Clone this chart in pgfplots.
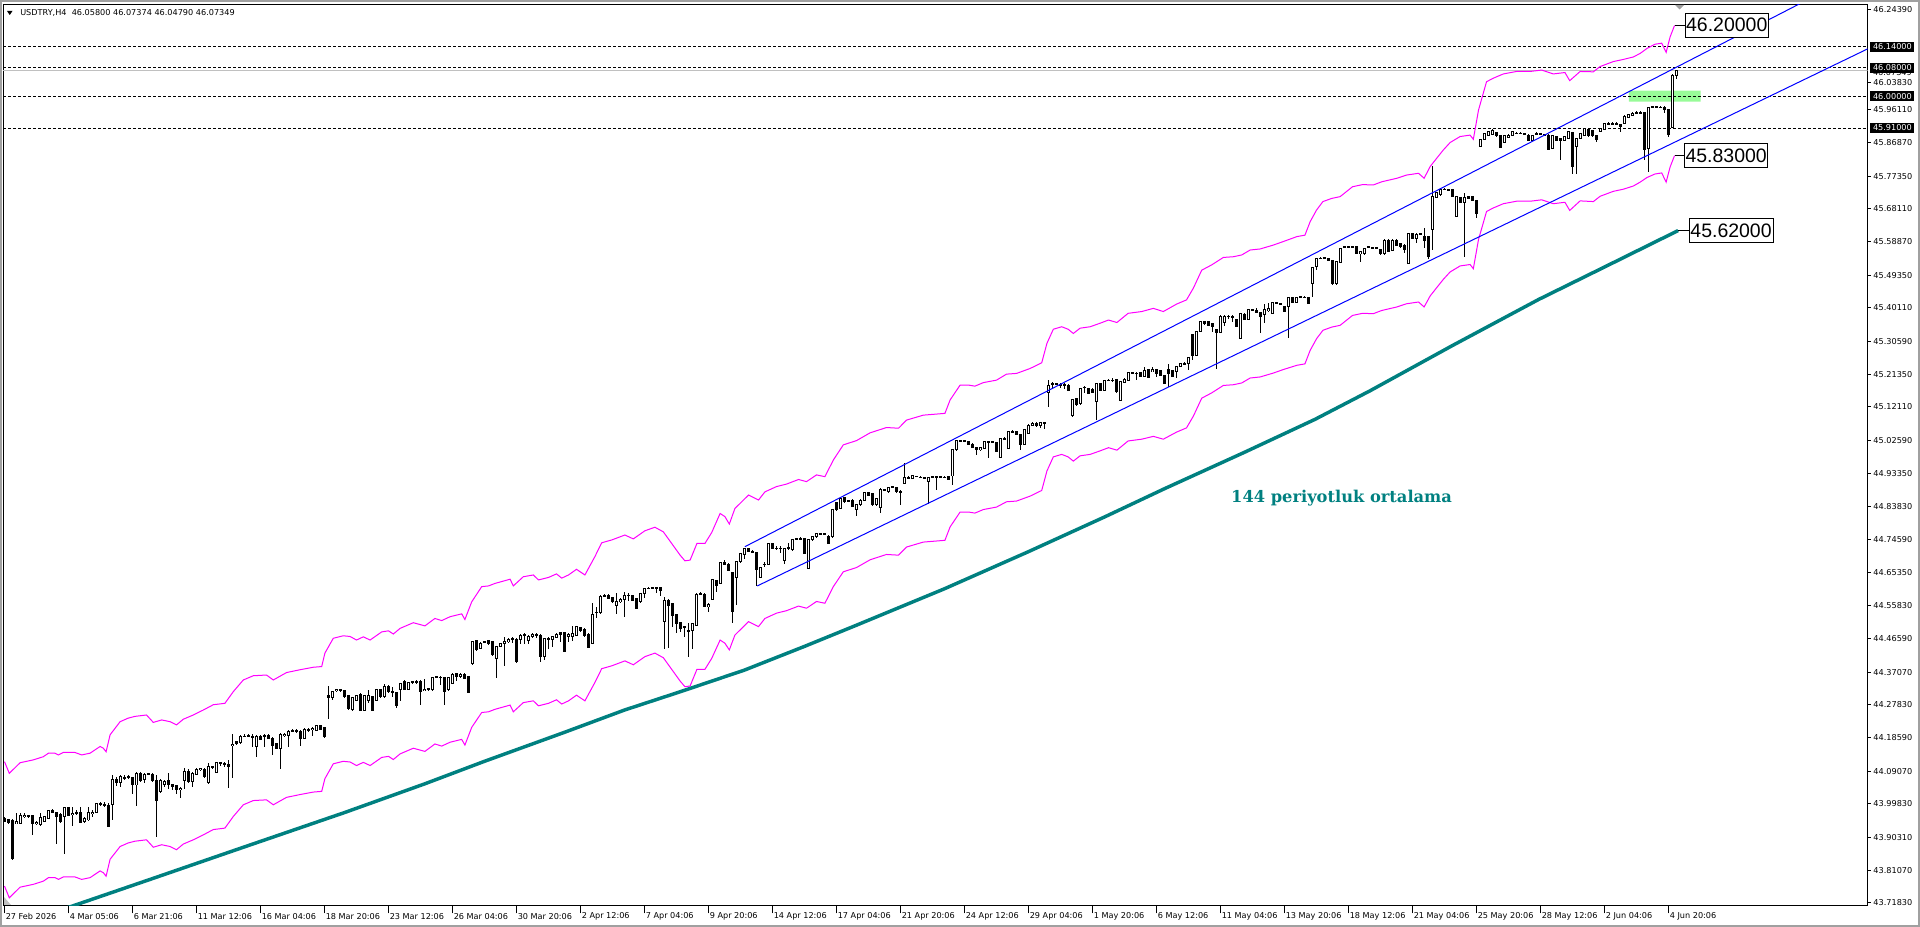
\documentclass[border=0pt]{standalone}
\usepackage{pgfplots}
\pgfplotsset{compat=1.18}
\usepackage{pgfplotstable}
\usepackage{fontspec}
\setmainfont{DejaVu Sans}
\newfontfamily\labfont{Liberation Sans}
\newfontfamily\serfont{DejaVu Serif}
\definecolor{mtmag}{RGB}{255,0,255}
\definecolor{mtteal}{RGB}{0,128,128}
\definecolor{mtblue}{RGB}{0,0,255}
\definecolor{mtgreen}{RGB}{152,251,152}
\definecolor{mtgray}{RGB}{192,192,192}
\definecolor{mtframe}{RGB}{160,160,160}

\pgfplotstableread{
x o h l c
0 43.958 43.962 43.948 43.950
1 43.955 43.957 43.943 43.945
2 43.953 43.955 43.841 43.844
3 43.943 43.974 43.941 43.948
4 43.943 43.974 43.941 43.967
5 43.964 43.972 43.958 43.967
6 43.964 43.967 43.960 43.966
7 43.966 43.968 43.910 43.943
8 43.943 43.950 43.939 43.947
9 43.939 43.974 43.937 43.960
10 43.948 43.964 43.946 43.962
11 43.958 43.981 43.956 43.979
12 43.981 43.984 43.972 43.974
13 43.974 43.976 43.885 43.964
14 43.969 43.972 43.946 43.948
15 43.964 43.990 43.857 43.989
16 43.988 43.989 43.965 43.967
17 43.969 43.990 43.936 43.972
18 43.972 43.981 43.967 43.974
19 43.974 43.990 43.944 43.946
20 43.948 43.962 43.946 43.958
21 43.953 43.989 43.951 43.974
22 43.972 43.981 43.962 43.975
23 43.974 44.002 43.972 43.999
24 43.998 44.004 43.992 44.000
25 43.998 44.004 43.990 43.995
26 43.995 44.000 43.934 43.936
27 43.997 44.079 43.953 44.068
28 44.068 44.075 44.049 44.058
29 44.058 44.079 44.047 44.075
30 44.072 44.079 44.066 44.074
31 44.073 44.079 44.068 44.075
32 44.073 44.075 44.028 44.052
33 44.052 44.088 43.992 44.085
34 44.085 44.088 44.061 44.066
35 44.068 44.087 44.058 44.083
36 44.083 44.087 44.079 44.085
37 44.083 44.085 44.061 44.066
38 44.066 44.080 43.906 44.009
39 44.033 44.068 44.030 44.064
40 44.054 44.066 44.047 44.063
41 44.066 44.085 44.042 44.052
42 44.054 44.056 44.038 44.047
43 44.050 44.052 44.028 44.038
44 44.038 44.047 44.014 44.042
45 44.066 44.099 44.042 44.090
46 44.090 44.096 44.059 44.061
47 44.061 44.088 44.047 44.085
48 44.083 44.099 44.080 44.096
49 44.096 44.101 44.092 44.099
50 44.096 44.099 44.073 44.075
51 44.058 44.113 44.056 44.104
52 44.102 44.106 44.098 44.104
53 44.088 44.118 44.085 44.116
54 44.115 44.118 44.106 44.113
55 44.113 44.118 44.104 44.110
56 44.111 44.122 44.045 44.104
57 44.165 44.195 44.071 44.168
58 44.174 44.177 44.165 44.168
59 44.172 44.193 44.168 44.190
60 44.190 44.195 44.187 44.189
61 44.189 44.195 44.187 44.191
62 44.188 44.195 44.160 44.190
63 44.160 44.192 44.132 44.189
64 44.189 44.192 44.179 44.182
65 44.189 44.195 44.160 44.191
66 44.191 44.195 44.181 44.184
67 44.184 44.187 44.137 44.165
68 44.170 44.172 44.154 44.156
69 44.156 44.198 44.096 44.196
70 44.193 44.200 44.189 44.196
71 44.193 44.209 44.160 44.203
72 44.205 44.211 44.202 44.206
73 44.206 44.211 44.200 44.204
74 44.203 44.207 44.162 44.184
75 44.184 44.212 44.182 44.210
76 44.207 44.212 44.203 44.209
77 44.208 44.215 44.190 44.211
78 44.207 44.221 44.206 44.219
79 44.219 44.222 44.207 44.209
80 44.214 44.217 44.184 44.190
81 44.306 44.332 44.239 44.300
82 44.300 44.319 44.292 44.316
83 44.318 44.322 44.315 44.321
84 44.320 44.324 44.316 44.322
85 44.319 44.322 44.299 44.302
86 44.304 44.305 44.264 44.269
87 44.265 44.302 44.262 44.299
88 44.292 44.308 44.290 44.305
89 44.308 44.311 44.262 44.264
90 44.264 44.306 44.262 44.304
91 44.292 44.321 44.283 44.304
92 44.302 44.304 44.261 44.264
93 44.292 44.323 44.290 44.321
94 44.321 44.324 44.299 44.302
95 44.302 44.337 44.299 44.332
96 44.332 44.335 44.313 44.316
97 44.316 44.330 44.302 44.314
98 44.313 44.316 44.269 44.278
99 44.321 44.341 44.290 44.339
100 44.346 44.348 44.320 44.322
101 44.322 44.344 44.320 44.341
102 44.342 44.347 44.339 44.344
103 44.346 44.348 44.339 44.341
104 44.346 44.348 44.278 44.316
105 44.320 44.351 44.319 44.323
106 44.325 44.327 44.319 44.321
107 44.321 44.358 44.319 44.356
108 44.356 44.361 44.354 44.358
109 44.357 44.360 44.335 44.356
110 44.356 44.358 44.278 44.316
111 44.321 44.358 44.319 44.356
112 44.339 44.368 44.337 44.366
113 44.368 44.370 44.347 44.358
114 44.358 44.368 44.356 44.366
115 44.366 44.368 44.351 44.354
116 44.358 44.360 44.311 44.313
117 44.396 44.459 44.391 44.457
118 44.460 44.462 44.432 44.434
119 44.438 44.456 44.436 44.453
120 44.455 44.460 44.453 44.457
121 44.460 44.462 44.449 44.451
122 44.457 44.459 44.418 44.420
123 44.410 44.445 44.356 44.443
124 44.443 44.455 44.441 44.453
125 44.453 44.470 44.389 44.459
126 44.457 44.467 44.455 44.464
127 44.463 44.470 44.454 44.465
128 44.465 44.467 44.398 44.400
129 44.464 44.478 44.451 44.476
130 44.477 44.481 44.451 44.478
131 44.460 44.476 44.451 44.473
132 44.471 44.481 44.469 44.479
133 44.478 44.481 44.467 44.476
134 44.476 44.478 44.401 44.415
135 44.415 44.467 44.405 44.465
136 44.467 44.470 44.436 44.465
137 44.464 44.474 44.443 44.471
138 44.470 44.481 44.467 44.479
139 44.483 44.486 44.457 44.479
140 44.483 44.486 44.427 44.429
141 44.471 44.481 44.457 44.479
142 44.473 44.502 44.460 44.481
143 44.476 44.502 44.474 44.500
144 44.498 44.500 44.486 44.488
145 44.493 44.495 44.470 44.476
146 44.479 44.481 44.439 44.441
147 44.453 44.566 44.450 44.535
148 44.539 44.556 44.523 44.541
149 44.539 44.589 44.537 44.586
150 44.586 44.592 44.583 44.587
151 44.589 44.592 44.578 44.580
152 44.582 44.584 44.568 44.570
153 44.561 44.594 44.537 44.572
154 44.570 44.580 44.568 44.577
155 44.577 44.599 44.528 44.588
156 44.588 44.594 44.573 44.589
157 44.587 44.590 44.573 44.575
158 44.580 44.582 44.550 44.552
159 44.570 44.596 44.568 44.594
160 44.594 44.609 44.582 44.607
161 44.607 44.611 44.605 44.609
162 44.609 44.613 44.606 44.610
163 44.610 44.613 44.596 44.609
164 44.610 44.613 44.587 44.602
165 44.514 44.583 44.436 44.573
166 44.575 44.577 44.440 44.561
167 44.566 44.568 44.499 44.531
168 44.533 44.535 44.481 44.509
169 44.512 44.514 44.485 44.495
170 44.500 44.502 44.471 44.496
171 44.490 44.509 44.415 44.487
172 44.488 44.511 44.438 44.509
173 44.504 44.594 44.502 44.592
174 44.592 44.599 44.589 44.594
175 44.592 44.594 44.554 44.556
176 44.556 44.566 44.542 44.563
177 44.578 44.634 44.576 44.632
178 44.630 44.632 44.599 44.616
179 44.622 44.684 44.620 44.682
180 44.682 44.688 44.675 44.677
181 44.677 44.679 44.658 44.660
182 44.652 44.654 44.509 44.542
183 44.639 44.685 44.561 44.683
184 44.683 44.709 44.681 44.707
185 44.705 44.723 44.690 44.721
186 44.721 44.723 44.710 44.712
187 44.709 44.718 44.707 44.711
188 44.709 44.711 44.615 44.662
189 44.639 44.669 44.637 44.667
190 44.675 44.683 44.669 44.677
191 44.676 44.737 44.674 44.735
192 44.735 44.737 44.719 44.721
193 44.722 44.728 44.717 44.720
194 44.720 44.728 44.709 44.722
195 44.688 44.723 44.676 44.721
196 44.722 44.735 44.717 44.724
197 44.717 44.747 44.715 44.745
198 44.746 44.750 44.744 44.748
199 44.748 44.754 44.745 44.749
200 44.749 44.751 44.705 44.707
201 44.665 44.749 44.663 44.747
202 44.745 44.756 44.743 44.754
203 44.754 44.766 44.752 44.764
204 44.762 44.766 44.759 44.763
205 44.763 44.766 44.759 44.761
206 44.756 44.758 44.733 44.735
207 44.754 44.832 44.752 44.830
208 44.850 44.852 44.828 44.830
209 44.834 44.865 44.832 44.863
210 44.865 44.867 44.851 44.853
211 44.856 44.858 44.853 44.855
212 44.858 44.860 44.837 44.839
213 44.830 44.848 44.813 44.846
214 44.844 44.860 44.842 44.858
215 44.858 44.881 44.856 44.879
216 44.879 44.881 44.870 44.872
217 44.877 44.879 44.842 44.844
218 44.844 44.865 44.842 44.863
219 44.837 44.891 44.822 44.889
220 44.886 44.890 44.884 44.887
221 44.881 44.896 44.879 44.894
222 44.893 44.897 44.891 44.895
223 44.893 44.895 44.879 44.881
224 44.881 44.886 44.844 44.880
225 44.905 44.962 44.903 44.922
226 44.921 44.925 44.919 44.922
227 44.919 44.928 44.917 44.926
228 44.925 44.927 44.922 44.924
229 44.923 44.925 44.920 44.922
230 44.922 44.924 44.919 44.921
231 44.910 44.924 44.848 44.922
232 44.923 44.927 44.921 44.924
233 44.924 44.927 44.886 44.923
234 44.923 44.926 44.921 44.924
235 44.923 44.925 44.920 44.922
236 44.924 44.926 44.914 44.916
237 44.926 45.002 44.900 45.000
238 45.000 45.027 44.998 45.025
239 45.024 45.028 45.022 45.025
240 45.025 45.027 45.022 45.024
241 45.023 45.025 45.014 45.016
242 45.016 45.018 45.005 45.007
243 45.007 45.009 44.985 45.000
244 45.000 45.009 44.998 45.007
245 45.004 45.025 45.002 45.023
246 45.023 45.026 44.976 45.022
247 45.022 45.026 45.020 45.023
248 45.020 45.022 44.993 44.995
249 44.979 45.033 44.977 45.031
250 45.031 45.035 45.029 45.032
251 45.004 45.053 45.002 45.051
252 45.051 45.055 45.049 45.052
253 45.051 45.053 45.042 45.044
254 45.044 45.046 45.000 45.016
255 45.016 45.060 45.014 45.058
256 45.047 45.072 45.045 45.070
257 45.070 45.078 45.066 45.075
258 45.075 45.078 45.064 45.068
259 45.068 45.080 45.062 45.076
260 45.076 45.080 45.058 45.073
261 45.162 45.197 45.120 45.183
262 45.186 45.193 45.174 45.188
263 45.187 45.190 45.183 45.186
264 45.184 45.188 45.174 45.183
265 45.183 45.188 45.171 45.184
266 45.183 45.186 45.165 45.167
267 45.098 45.143 45.094 45.141
268 45.145 45.147 45.125 45.127
269 45.130 45.176 45.128 45.174
270 45.176 45.180 45.160 45.177
271 45.174 45.176 45.158 45.160
272 45.171 45.174 45.160 45.162
273 45.136 45.190 45.084 45.188
274 45.188 45.190 45.165 45.167
275 45.167 45.197 45.165 45.195
276 45.196 45.200 45.194 45.197
277 45.197 45.202 45.193 45.196
278 45.199 45.201 45.162 45.164
279 45.139 45.195 45.137 45.193
280 45.190 45.202 45.188 45.200
281 45.197 45.221 45.195 45.219
282 45.217 45.221 45.215 45.218
283 45.217 45.219 45.197 45.216
284 45.219 45.221 45.205 45.207
285 45.207 45.235 45.205 45.223
286 45.226 45.228 45.203 45.205
287 45.221 45.235 45.219 45.227
288 45.227 45.229 45.207 45.216
289 45.223 45.225 45.208 45.210
290 45.211 45.213 45.186 45.188
291 45.226 45.242 45.177 45.216
292 45.223 45.225 45.205 45.207
293 45.221 45.237 45.202 45.235
294 45.235 45.245 45.233 45.243
295 45.243 45.247 45.241 45.244
296 45.244 45.263 45.226 45.261
297 45.327 45.329 45.254 45.268
298 45.268 45.336 45.266 45.334
299 45.334 45.364 45.332 45.362
300 45.362 45.364 45.354 45.356
301 45.362 45.364 45.351 45.353
302 45.356 45.358 45.334 45.348
303 45.341 45.343 45.230 45.331
304 45.331 45.380 45.329 45.378
305 45.360 45.380 45.350 45.378
306 45.377 45.381 45.369 45.378
307 45.378 45.380 45.362 45.376
308 45.369 45.371 45.348 45.350
309 45.315 45.388 45.313 45.386
310 45.384 45.386 45.367 45.369
311 45.369 45.399 45.367 45.397
312 45.396 45.398 45.393 45.395
313 45.395 45.400 45.386 45.388
314 45.388 45.390 45.329 45.378
315 45.384 45.412 45.360 45.397
316 45.393 45.414 45.391 45.400
317 45.386 45.418 45.384 45.416
318 45.415 45.419 45.413 45.416
319 45.413 45.415 45.409 45.411
320 45.405 45.407 45.389 45.391
321 45.405 45.433 45.317 45.431
322 45.431 45.433 45.414 45.416
323 45.417 45.433 45.415 45.431
324 45.432 45.436 45.430 45.433
325 45.432 45.434 45.429 45.431
326 45.431 45.433 45.412 45.414
327 45.471 45.518 45.433 45.516
328 45.518 45.543 45.508 45.541
329 45.541 45.545 45.539 45.542
330 45.542 45.546 45.540 45.543
331 45.541 45.543 45.533 45.535
332 45.536 45.538 45.466 45.470
333 45.470 45.534 45.466 45.532
334 45.529 45.572 45.527 45.570
335 45.573 45.577 45.571 45.574
336 45.574 45.577 45.571 45.573
337 45.573 45.577 45.571 45.574
338 45.574 45.576 45.554 45.556
339 45.556 45.563 45.532 45.560
340 45.554 45.572 45.552 45.570
341 45.573 45.577 45.571 45.574
342 45.572 45.574 45.569 45.571
343 45.571 45.573 45.568 45.570
344 45.567 45.569 45.552 45.554
345 45.554 45.595 45.552 45.593
346 45.593 45.595 45.558 45.560
347 45.563 45.595 45.561 45.593
348 45.593 45.595 45.577 45.579
349 45.584 45.586 45.572 45.574
350 45.579 45.581 45.556 45.567
351 45.527 45.614 45.525 45.612
352 45.612 45.614 45.596 45.598
353 45.598 45.612 45.584 45.610
354 45.610 45.614 45.608 45.611
355 45.603 45.626 45.570 45.593
356 45.603 45.605 45.541 45.546
357 45.622 45.803 45.565 45.716
358 45.714 45.729 45.712 45.727
359 45.721 45.737 45.719 45.735
360 45.736 45.740 45.734 45.737
361 45.736 45.738 45.733 45.735
362 45.735 45.737 45.714 45.716
363 45.661 45.718 45.659 45.716
364 45.714 45.716 45.697 45.699
365 45.699 45.725 45.544 45.714
366 45.716 45.718 45.709 45.711
367 45.716 45.718 45.704 45.706
368 45.705 45.707 45.655 45.667
369 45.859 45.880 45.857 45.878
370 45.878 45.897 45.876 45.895
371 45.890 45.903 45.888 45.900
372 45.893 45.906 45.891 45.904
373 45.897 45.899 45.886 45.888
374 45.888 45.890 45.853 45.855
375 45.869 45.890 45.867 45.888
376 45.884 45.893 45.882 45.890
377 45.890 45.903 45.888 45.900
378 45.896 45.898 45.893 45.895
379 45.895 45.898 45.893 45.896
380 45.894 45.896 45.891 45.893
381 45.890 45.892 45.874 45.876
382 45.876 45.890 45.874 45.888
383 45.894 45.898 45.892 45.895
384 45.894 45.896 45.891 45.893
385 45.891 45.893 45.888 45.890
386 45.890 45.892 45.848 45.850
387 45.853 45.890 45.851 45.888
388 45.886 45.888 45.872 45.874
389 45.881 45.883 45.821 45.874
390 45.876 45.888 45.874 45.886
391 45.881 45.902 45.879 45.900
392 45.897 45.899 45.780 45.801
393 45.859 45.883 45.780 45.881
394 45.881 45.897 45.879 45.895
395 45.890 45.911 45.888 45.909
396 45.906 45.908 45.886 45.888
397 45.903 45.905 45.886 45.888
398 45.888 45.890 45.871 45.878
399 45.900 45.911 45.898 45.909
400 45.906 45.925 45.904 45.923
401 45.922 45.926 45.920 45.923
402 45.923 45.926 45.920 45.922
403 45.922 45.926 45.920 45.923
404 45.919 45.921 45.900 45.914
405 45.923 45.946 45.921 45.944
406 45.940 45.949 45.938 45.947
407 45.945 45.954 45.943 45.952
408 45.953 45.957 45.951 45.954
409 45.954 45.957 45.951 45.953
410 45.954 45.956 45.820 45.850
411 45.853 45.971 45.787 45.969
412 45.969 45.973 45.967 45.970
413 45.970 45.973 45.967 45.969
414 45.969 45.971 45.966 45.968
415 45.969 45.971 45.952 45.963
416 45.963 45.965 45.884 45.893
417 45.912 46.062 45.910 46.060
418 46.05800 46.07374 46.04790 46.07349
}\candles

\pgfplotstableread{
x u l
0 44.118 43.766
1.2 44.085 43.733
3.9 44.115 43.763
7.2 44.123 43.771
9.7 44.132 43.780
11 44.142 43.790
12.6 44.142 43.790
13.5 44.137 43.785
14.7 44.144 43.792
17.6 44.144 43.792
19.3 44.137 43.785
21.4 44.142 43.790
23.9 44.161 43.809
24.7 44.156 43.804
25.4 44.146 43.794
26.4 44.194 43.842
28.9 44.231 43.878
30.9 44.241 43.888
32.6 44.246 43.893
35.5 44.250 43.897
37.2 44.229 43.876
39.3 44.236 43.883
41.4 44.231 43.878
43 44.222 43.869
44.7 44.238 43.885
47.2 44.250 43.897
49.7 44.264 43.911
52.2 44.279 43.926
55.1 44.283 43.930
57.2 44.316 43.963
59.7 44.349 43.996
62.2 44.361 44.008
65.5 44.363 44.010
67.2 44.349 43.996
70.5 44.370 44.017
73.9 44.378 44.025
77.2 44.385 44.032
79.3 44.387 44.034
80.1 44.425 44.070
82.2 44.467 44.112
84.7 44.474 44.119
86.4 44.472 44.117
88 44.462 44.107
89.7 44.471 44.116
91.4 44.462 44.107
94.3 44.485 44.130
96 44.488 44.133
97.2 44.479 44.124
98.9 44.495 44.140
102.2 44.511 44.156
105.1 44.502 44.147
107.6 44.523 44.168
109.3 44.517 44.162
111.4 44.528 44.173
114.3 44.536 44.181
115.1 44.520 44.165
116.8 44.570 44.215
119.3 44.613 44.257
121 44.615 44.259
122.6 44.622 44.266
126.4 44.634 44.278
127.2 44.615 44.259
129.7 44.641 44.285
132.2 44.646 44.290
133.5 44.632 44.276
136 44.639 44.283
138 44.649 44.293
139.3 44.637 44.281
141 44.646 44.290
143 44.662 44.306
145.1 44.646 44.290
147.6 44.698 44.342
149.3 44.737 44.381
151.8 44.745 44.389
155.1 44.759 44.403
157.2 44.748 44.392
160.1 44.771 44.415
162.6 44.781 44.425
164.7 44.768 44.412
166.8 44.735 44.379
168.9 44.702 44.346
170.1 44.686 44.330
171.4 44.688 44.332
173.1 44.735 44.379
175.1 44.735 44.379
176.8 44.766 44.410
178.9 44.820 44.462
180.1 44.811 44.453
181.2 44.790 44.434
182.6 44.834 44.476
186 44.872 44.514
188.5 44.858 44.500
190.1 44.881 44.523
193 44.896 44.538
195.5 44.903 44.545
198.5 44.916 44.558
200.5 44.910 44.552
203 44.929 44.571
205.1 44.924 44.566
207.2 44.971 44.613
209.7 45.014 44.655
213 45.026 44.667
216.4 45.048 44.689
220.5 45.063 44.704
223.5 45.061 44.702
225.5 45.084 44.725
229.7 45.098 44.739
235.1 45.103 44.744
236.4 45.141 44.782
238.9 45.183 44.824
241 45.183 44.824
242.6 45.180 44.821
244.7 45.190 44.831
248 45.197 44.838
250.5 45.214 44.853
253 45.216 44.855
256.4 45.230 44.869
259.3 45.246 44.885
260.6 45.301 44.940
262.2 45.341 44.980
264.3 45.348 44.987
265.9 45.341 44.980
267.2 45.329 44.968
268.9 45.344 44.983
271.4 45.348 44.987
273.9 45.358 44.997
276 45.367 45.006
278.1 45.360 44.999
280.9 45.386 45.025
284.3 45.391 45.030
287.2 45.400 45.038
289.7 45.391 45.030
293 45.412 45.050
295.5 45.424 45.062
297.2 45.457 45.095
299.3 45.508 45.146
301.8 45.523 45.161
304.7 45.544 45.182
307.2 45.546 45.184
309.3 45.551 45.189
311.4 45.565 45.203
313.9 45.568 45.206
317.2 45.579 45.217
319.7 45.589 45.227
323.1 45.603 45.239
325.1 45.607 45.243
326.4 45.645 45.281
328 45.678 45.314
329.6 45.702 45.338
331.8 45.711 45.347
333.9 45.716 45.352
337 45.744 45.380
339.5 45.750 45.386
342.2 45.749 45.385
344.3 45.758 45.394
348.1 45.768 45.404
350.5 45.777 45.413
353.5 45.782 45.418
354.9 45.768 45.404
356.4 45.801 45.435
358 45.824 45.458
359.7 45.848 45.482
361.4 45.869 45.503
363.9 45.886 45.520
366.4 45.890 45.524
367.2 45.878 45.512
368.5 45.961 45.595
370.5 46.041 45.674
372.2 46.051 45.684
374.7 46.063 45.696
378 46.070 45.703
381.4 46.070 45.703
384.3 46.074 45.707
387.2 46.063 45.696
390.1 46.067 45.700
391.3 46.044 45.677
393.9 46.070 45.704
397.2 46.069 45.702
398.9 46.084 45.717
402.2 46.098 45.731
404.7 46.104 45.737
407.2 46.111 45.746
408.9 46.121 45.757
410.6 46.135 45.770
412.6 46.147 45.780
414.3 46.150 45.783
415.4 46.124 45.757
416.4 46.168 45.800
417.5 46.200 45.832
}\bands

\pgfplotstableread{
x m
15 43.702
36.4 43.785
60 43.877
85 43.974
105 44.055
120 44.119
140 44.201
155 44.264
169 44.316
185 44.377
200 44.444
213 44.504
235 44.607
256 44.712
275 44.810
290 44.890
310 44.993
327.6 45.086
341.4 45.167
362 45.295
383.5 45.425
400 45.517
418.4 45.620
}\ma

\begin{document}
\begin{tikzpicture}
\useasboundingbox (0,0) rectangle (1440pt,695.25pt);
\begin{axis}[
  at={(2.25pt,16.125pt)}, anchor=south west,
  scale only axis, width=1398.375pt, height=675.9pt,
  xmin=-0.375, xmax=465.75, ymin=43.7112, ymax=46.2600,
  axis line style={black, line width=0.75pt},
  tick style={black, line width=0.75pt},
  tick align=outside,
  major tick length=2.25pt,
  xtick style={/pgfplots/major tick length=6pt},
  xtick pos=bottom, ytick pos=right, yticklabel pos=right,
  xtick={0,16,...,416},
  xticklabels={27 Feb 2026, 4 Mar 05:06, 6 Mar 21:06, 11 Mar 12:06, 16 Mar 04:06, 18 Mar 20:06, 23 Mar 12:06, 26 Mar 04:06, 30 Mar 20:06, 2 Apr 12:06, 7 Apr 04:06, 9 Apr 20:06, 14 Apr 12:06, 17 Apr 04:06, 21 Apr 20:06, 24 Apr 12:06, 29 Apr 04:06, 1 May 20:06, 6 May 12:06, 11 May 04:06, 13 May 20:06, 18 May 12:06, 21 May 04:06, 25 May 20:06, 28 May 12:06, 2 Jun 04:06, 4 Jun 20:06},
  ytick={43.7183,43.8107,43.9031,43.9983,44.0907,44.1859,44.2783,44.3707,44.4659,44.5583,44.6535,44.7459,44.8383,44.9335,45.0259,45.1211,45.2135,45.3059,45.4011,45.4935,45.5887,45.6811,45.7735,45.8687,45.9611,46.0383,46.2439},
  yticklabels={43.71830,43.81070,43.90310,43.99830,44.09070,44.18590,44.27830,44.37070,44.46590,44.55830,44.65350,44.74590,44.83830,44.93350,45.02590,45.12110,45.21350,45.30590,45.40110,45.49350,45.58870,45.68110,45.77350,45.86870,45.96110,46.03830,46.24390},
  ticklabel style={font=\fontsize{6.1}{7}\selectfont, inner sep=0pt},
  yticklabel style={anchor=west, xshift=2pt},
  xticklabel style={anchor=west, xshift=0.75pt, yshift=-6pt},
  clip=true,
]
% green zone
\addplot[fill=mtgreen, draw=none, forget plot] coordinates {(406.1,45.9845) (424.05,45.9845) (424.05,46.0157) (406.1,46.0157) (406.1,45.9845)};
% horizontal levels
\addplot[black, line width=0.75pt, dash pattern=on 2.25pt off 1.5pt, forget plot] coordinates {(-0.375,46.14) (465.75,46.14)};
\addplot[black, line width=0.75pt, dash pattern=on 2.25pt off 1.5pt, forget plot] coordinates {(-0.375,46.08) (465.75,46.08)};
\addplot[black, line width=0.75pt, dash pattern=on 2.25pt off 1.5pt, forget plot] coordinates {(-0.375,46.00) (465.75,46.00)};
\addplot[black, line width=0.75pt, dash pattern=on 2.25pt off 1.5pt, forget plot] coordinates {(-0.375,45.91) (465.75,45.91)};
\addplot[mtgray, line width=0.75pt, forget plot] coordinates {(-0.375,46.07349) (465.75,46.07349)};
% candles: wicks
\addplot[draw=none, mark=none, forget plot,
  error bars/.cd, y dir=both, y explicit, error mark=none,
  error bar style={draw=black, solid, line width=0.75pt}]
  table[x=x, y expr=(\thisrow{h}+\thisrow{l})/2, y error expr={(\thisrow{h}-\thisrow{l})/2}] {\candles};
% bodies (black)
\addplot[draw=none, mark=none, forget plot,
  error bars/.cd, y dir=both, y explicit, error mark=none,
  error bar style={draw=black, solid, line width=2.25pt}]
  table[x=x, y expr=(\thisrow{o}+\thisrow{c})/2, y error expr={abs(\thisrow{c}-\thisrow{o})/2+0.0014}] {\candles};
% bullish hollow interior
\addplot[draw=none, mark=none, forget plot,
  error bars/.cd, y dir=both, y explicit, error mark=none,
  error bar style={draw=white, solid, line width=0.75pt}]
  table[x=x, y expr=(\thisrow{o}+\thisrow{c})/2, y error expr={ifthenelse(\thisrow{c}>\thisrow{o}, max((\thisrow{c}-\thisrow{o})/2-0.0014,0), 0)}] {\candles};
% envelopes
\addplot[mtmag, line width=0.75pt, forget plot] table[x=x, y=u] {\bands};
\addplot[mtmag, line width=0.75pt, forget plot] table[x=x, y=l] {\bands};
% 144 MA
\addplot[mtteal, line width=2.6pt, forget plot] table[x=x, y=m] {\ma};
% channel lines
\addplot[mtblue, line width=0.75pt, forget plot] coordinates {(185.1,44.726) (470,46.385)};
\addplot[mtblue, line width=0.75pt, forget plot] coordinates {(188.2,44.615) (470,46.157)};
% leader lines
\addplot[black, line width=0.75pt, forget plot] coordinates {(417.5,46.20) (420.1,46.20)};
\addplot[black, line width=0.75pt, forget plot] coordinates {(417.5,45.832) (420.0,45.832)};
\addplot[black, line width=0.75pt, forget plot] coordinates {(418.4,45.62) (421.0,45.62)};
% value boxes
\node[draw=black, fill=white, line width=0.75pt, anchor=west, inner sep=0pt, minimum width=62pt, minimum height=18pt, font=\labfont\fontsize{14.6}{15}\selectfont] at (axis cs:420.1,46.2006) {46.20000};
\node[draw=black, fill=white, line width=0.75pt, anchor=west, inner sep=0pt, minimum width=62pt, minimum height=18pt, font=\labfont\fontsize{14.6}{15}\selectfont] at (axis cs:419.95,45.831) {45.83000};
\node[draw=black, fill=white, line width=0.75pt, anchor=west, inner sep=0pt, minimum width=63pt, minimum height=18pt, font=\labfont\fontsize{14.6}{15}\selectfont] at (axis cs:421.0,45.620) {45.62000};
% caption
\node[anchor=base west, inner sep=0pt, text=mtteal, font=\serfont\bfseries\fontsize{12.2}{13}\selectfont] at (axis cs:306.6,44.850) {144 periyotluk ortalama};
% coordinates for right labels
\coordinate (r1) at (axis cs:465.75,46.14);
\coordinate (r2) at (axis cs:465.75,46.08);
\coordinate (r3) at (axis cs:465.75,46.00);
\coordinate (r4) at (axis cs:465.75,45.91);
\coordinate (rb) at (axis cs:465.75,46.07349);
\end{axis}
% bid label (partly hidden)
\node[anchor=west, inner sep=0pt, xshift=3.9pt, yshift=-2pt, font=\fontsize{6.1}{7}\selectfont] at (rb) {46.07349};
\foreach \p/\t in {r1/46.14000, r2/46.08000, r3/46.00000, r4/45.91000}{
  \node[anchor=west, fill=black, text=white, inner xsep=2pt, inner ysep=0pt, minimum height=7.5pt, xshift=1.9pt, font=\fontsize{6.1}{7}\selectfont] at (\p) {\t};
}
\begin{scope}[x=0.75pt, y=-0.75pt, shift={(0pt,695.25pt)}]
  \draw[mtframe, line width=1.5pt] (1,1) rectangle (1919,926);
  \fill[black] (7,11) -- (12.5,11) -- (9.75,15) -- cycle;
  \node[anchor=base west, inner sep=0pt, font=\fontsize{6.1}{7}\selectfont] at (20,16) {USDTRY,H4\ \ 46.05800 46.07374 46.04790 46.07349};
  \fill[mtframe] (1675,5) -- (1684,5) -- (1679.5,9.5) -- cycle;
  \fill[mtgray] (4,897) -- (4,905) -- (11,905) -- cycle;
\end{scope}
\end{tikzpicture}
\end{document}
